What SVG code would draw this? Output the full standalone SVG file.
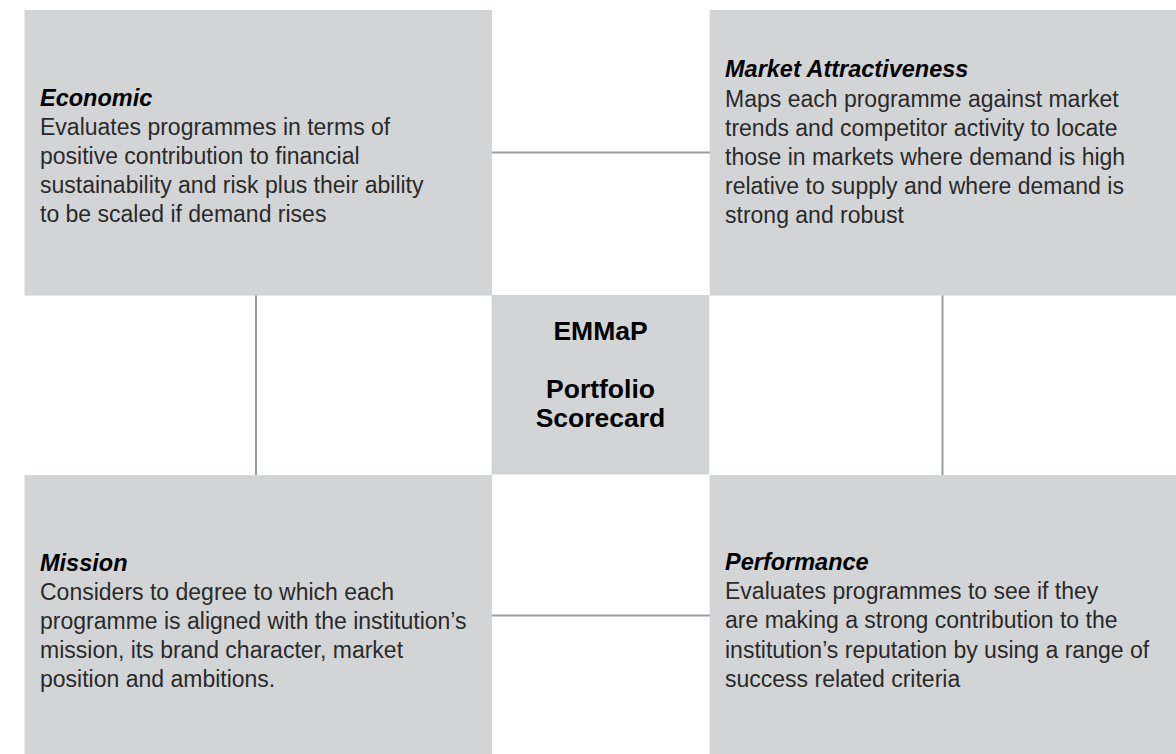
<svg xmlns="http://www.w3.org/2000/svg" width="1176" height="754" viewBox="0 0 1176 754">
<style>
.box{fill:#d3d4d6}
.conn{stroke:#9a9b9d;stroke-width:2;fill:none}
.h{font-family:"Liberation Sans",Arial,sans-serif;font-size:23.5px;font-weight:bold;font-style:italic;fill:#000}
.b{font-family:"Liberation Sans",Arial,sans-serif;font-size:23px;fill:#2a2a2a}
.c{font-family:"Liberation Sans",Arial,sans-serif;font-size:26.5px;font-weight:bold;fill:#000;text-anchor:middle}
</style>
<rect width="1176" height="754" fill="#fff"/>
<g id="connectors">
<line class="conn" x1="492" y1="152.5" x2="710" y2="152.5"/>
<line class="conn" x1="256" y1="295" x2="256" y2="475"/>
<line class="conn" x1="942.5" y1="295" x2="942.5" y2="475"/>
<line class="conn" x1="492" y1="615.5" x2="710" y2="615.5"/>
</g>
<g id="economic">
<rect class="box" x="24.5" y="10" width="467.5" height="285.5"/>
<text class="h" x="40" y="106">Economic</text>
<text class="b" x="40" y="135">Evaluates programmes in terms of</text>
<text class="b" x="40" y="164.3">positive contribution to financial</text>
<text class="b" x="40" y="193.3">sustainability and risk plus their ability</text>
<text class="b" x="40" y="222">to be scaled if demand rises</text>
</g>
<g id="market">
<rect class="box" x="709.7" y="10" width="466.3" height="285.5"/>
<text class="h" x="725" y="77.3">Market Attractiveness</text>
<text class="b" x="725" y="106.7">Maps each programme against market</text>
<text class="b" x="725" y="135.7">trends and competitor activity to locate</text>
<text class="b" x="725" y="165">those in markets where demand is high</text>
<text class="b" x="725" y="194">relative to supply and where demand is</text>
<text class="b" x="725" y="222.7">strong and robust</text>
</g>
<g id="center">
<rect class="box" x="491.7" y="295" width="217.6" height="179.5"/>
<text class="c" x="600.5" y="340">EMMaP</text>
<text class="c" x="600.5" y="398.3">Portfolio</text>
<text class="c" x="600.5" y="427.3">Scorecard</text>
</g>
<g id="mission">
<rect class="box" x="24.5" y="475" width="467.5" height="279"/>
<text class="h" x="40" y="571">Mission</text>
<text class="b" x="40" y="600">Considers to degree to which each</text>
<text class="b" x="40" y="629">programme is aligned with the institution’s</text>
<text class="b" x="40" y="658.3">mission, its brand character, market</text>
<text class="b" x="40" y="687.3">position and ambitions.</text>
</g>
<g id="performance">
<rect class="box" x="709.7" y="475" width="466.3" height="279"/>
<text class="h" x="725" y="570">Performance</text>
<text class="b" x="725" y="599">Evaluates programmes to see if they</text>
<text class="b" x="725" y="628.3">are making a strong contribution to the</text>
<text class="b" x="725" y="657.7">institution’s reputation by using a range of</text>
<text class="b" x="725" y="686.7">success related criteria</text>
</g>
</svg>
